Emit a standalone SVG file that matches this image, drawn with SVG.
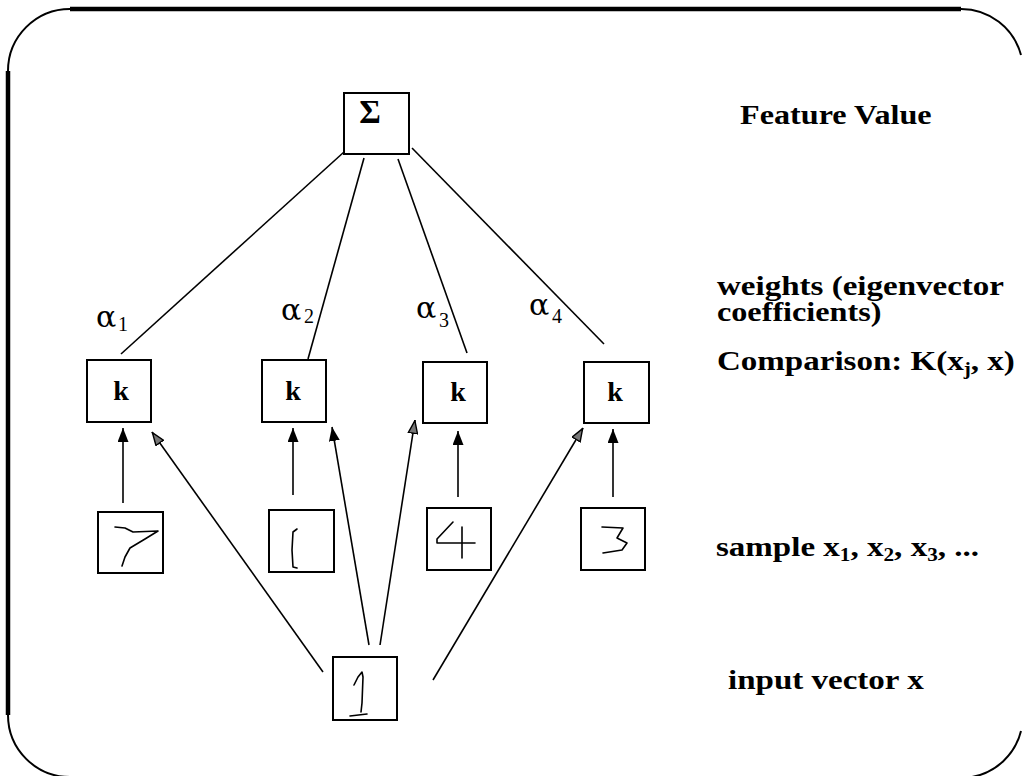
<svg xmlns="http://www.w3.org/2000/svg" width="1025" height="776" viewBox="0 0 1025 776">
<style>
.box{fill:#fff;stroke:#000;stroke-width:2}
.ln{stroke:#000;stroke-width:1.6;fill:none}
.hw{stroke:#000;stroke-width:1.6;fill:none;stroke-linejoin:round;stroke-linecap:round}
.fr{fill:none;stroke:#000;stroke-width:2}
.lbl{font-family:"Liberation Serif","Times New Roman",serif;font-weight:bold;font-size:28px;fill:#000}
.k{font-family:"Liberation Serif","Times New Roman",serif;font-weight:bold;font-size:28px;fill:#000}
.al{font-family:"DejaVu Serif","Liberation Serif",serif;font-size:30px;fill:#000}
.sub{font-family:"Liberation Serif","Times New Roman",serif;font-size:20px;fill:#000}
</style>
<defs>
<marker id="ah" viewBox="0 0 14 11" refX="14" refY="5.5" markerWidth="14" markerHeight="11" markerUnits="userSpaceOnUse" orient="auto">
<path d="M0,0 L14,5.5 L0,11 Z" fill="#000"/>
</marker>
<marker id="ah2" viewBox="0 0 14 11" refX="14" refY="5.5" markerWidth="14" markerHeight="11" markerUnits="userSpaceOnUse" orient="auto">
<path d="M0.7,0.9 L13.3,5.5 L0.7,10.1 Z" fill="#777" stroke="#000" stroke-width="1.4"/>
</marker>
</defs>
<rect width="1025" height="776" fill="#fff"/>
<g id="frame">
<path class="fr" d="M70,9 A62,62 0 0 0 8,71"/>
<path class="fr" d="M8,715 A62,62 0 0 0 70,777"/>
<path class="fr" d="M961,9 A62,62 0 0 1 1021,55"/>
<path class="fr" d="M1021,731 A62,62 0 0 1 972,777"/>
<line x1="70" y1="9" x2="961" y2="9" stroke="#000" stroke-width="4.5"/>
<line x1="8" y1="71" x2="8" y2="715" stroke="#000" stroke-width="4.5"/>
</g>
<g id="connectors">
<line class="ln" x1="344" y1="152" x2="121" y2="354"/>
<line class="ln" x1="364" y1="158" x2="308" y2="359"/>
<line class="ln" x1="398" y1="159" x2="467" y2="353"/>
<line class="ln" x1="412" y1="148" x2="604" y2="344"/>
<line class="ln" x1="123" y1="503" x2="123" y2="428" marker-end="url(#ah)"/>
<line class="ln" x1="293" y1="495" x2="293" y2="428" marker-end="url(#ah)"/>
<line class="ln" x1="458" y1="497" x2="458" y2="431" marker-end="url(#ah)"/>
<line class="ln" x1="613" y1="497" x2="613" y2="429" marker-end="url(#ah)"/>
<line class="ln" x1="323" y1="672" x2="152" y2="432" marker-end="url(#ah2)"/>
<line class="ln" x1="369" y1="645" x2="332" y2="427" marker-end="url(#ah)"/>
<line class="ln" x1="380" y1="645" x2="415" y2="420" marker-end="url(#ah2)"/>
<line class="ln" x1="433" y1="680" x2="583" y2="428" marker-end="url(#ah2)"/>
</g>
<g id="sum">
<rect class="box" x="344" y="93" width="65" height="61"/>
<text x="370" y="123" text-anchor="middle" font-family="Liberation Serif, serif" font-weight="bold" font-size="33">Σ</text>
</g>
<g id="k1">
<rect class="box" x="87" y="360" width="64" height="62"/>
<text class="k" x="121" y="400" text-anchor="middle">k</text>
</g>
<g id="k2">
<rect class="box" x="262" y="360" width="64" height="62"/>
<text class="k" x="293" y="400" text-anchor="middle">k</text>
</g>
<g id="k3">
<rect class="box" x="423" y="362" width="64" height="61"/>
<text class="k" x="458" y="401" text-anchor="middle">k</text>
</g>
<g id="k4">
<rect class="box" x="584" y="362" width="65" height="61"/>
<text class="k" x="615" y="401" text-anchor="middle">k</text>
</g>
<g id="alpha1"><text class="al" x="96" y="327">α</text><text class="sub" x="118" y="331">1</text></g>
<g id="alpha2"><text class="al" x="281" y="320">α</text><text class="sub" x="304" y="323">2</text></g>
<g id="alpha3"><text class="al" x="416" y="318">α</text><text class="sub" x="439" y="327">3</text></g>
<g id="alpha4"><text class="al" x="529" y="315">α</text><text class="sub" x="552" y="323">4</text></g>
<g id="sample7">
<rect class="box" x="98" y="512" width="65" height="61"/>
<path class="hw" d="M115,527 L125,528 L133,532 L158,531 L145,539 L130,548 L125,557 L122,566"/>
</g>
<g id="sample1">
<rect class="box" x="269" y="510" width="65" height="62"/>
<path class="hw" d="M297,529 L293,532 L292,550 L293,567 L297,568"/>
</g>
<g id="sample4">
<rect class="box" x="427" y="508" width="64" height="62"/>
<path class="hw" d="M453,522 L437,539 L437,543 L475,543 M462,527 L462,558"/>
</g>
<g id="sample3">
<rect class="box" x="581" y="508" width="64" height="62"/>
<path class="hw" d="M602,527 L623,528 L617,538 L627,543 L622,550 L603,553"/>
</g>
<g id="input">
<rect class="box" x="333" y="657" width="64" height="63"/>
<path class="hw" d="M354,685 L358,677 L362,672 L363,677 L362,703 L361,712 M350,716 L367,714"/>
</g>
<g id="labels">
<text class="lbl" transform="translate(740,124) scale(1.15,1)">Feature Value</text>
<text class="lbl" transform="translate(717,295) scale(1.18,1)">weights (eigenvector</text>
<text class="lbl" transform="translate(717,321) scale(1.15,1)">coefficients)</text>
<text class="lbl" transform="translate(717,370) scale(1.18,1)">Comparison: K(x<tspan font-size="18" dy="5">j</tspan><tspan dy="-5">, x)</tspan></text>
<text class="lbl" transform="translate(716,556) scale(1.18,1)">sample x<tspan font-size="18" dy="5">1</tspan><tspan dy="-5">, x</tspan><tspan font-size="18" dy="5">2</tspan><tspan dy="-5">, x</tspan><tspan font-size="18" dy="5">3</tspan><tspan dy="-5">, ...</tspan></text>
<text class="lbl" transform="translate(728,689) scale(1.18,1)">input vector x</text>
</g>
</svg>
